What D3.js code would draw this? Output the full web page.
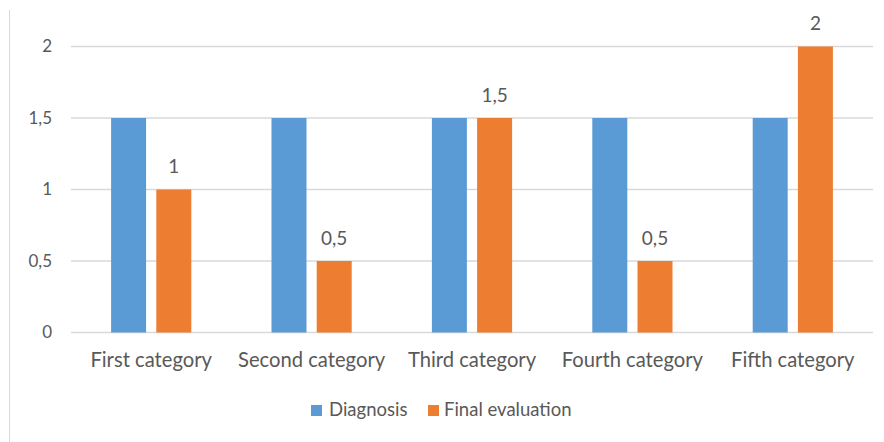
<!DOCTYPE html>
<html><head><meta charset="utf-8">
<script src="https://cdn.jsdelivr.net/npm/d3@7"></script>
<style>body{margin:0;background:#fff}svg{display:block;font-family:Lato,"Open Sans",sans-serif}</style>
</head><body>
<svg id="c" width="884" height="442"></svg>
<script>
const categories = ["First category","Second category","Third category","Fourth category","Fifth category"];
const seriesNames = ["Diagnosis","Final evaluation"];
const diagnosis = [1.5,1.5,1.5,1.5,1.5];
const finalEvaluation = [1,0.5,1.5,0.5,2];
const yTicks = [0,0.5,1,1.5,2];
const colors = ["#5B9BD5","#ED7D31"];

(function(){
const svg = d3.select("#c");
const pLeft = 71, pRight = 873, pTop = 46.5, pBottom = 332.5;
const y = d3.scaleLinear().domain([0,2]).range([pBottom, pTop]);
const x0 = d3.scaleBand().domain(categories).range([pLeft,pRight]).paddingInner(0.5).paddingOuter(0.25);
const x1 = d3.scaleBand().domain(seriesNames).range([0,x0.bandwidth()]).paddingInner(0.226).paddingOuter(0);
const fmt = v => String(v).replace(".", ",");
const textCol = "#595959";

svg.append("line").attr("x1",9.5).attr("x2",9.5).attr("y1",10).attr("y2",442).attr("stroke","#d9d9d9");

svg.append("g").selectAll("line").data(yTicks).join("line")
  .attr("x1",pLeft).attr("x2",pRight).attr("y1",d=>y(d)).attr("y2",d=>y(d))
  .attr("stroke","#d9d9d9").attr("stroke-width",1.5);

const yAxis = d3.axisLeft(y).tickValues(yTicks).tickFormat(fmt).tickSize(0).tickPadding(0);
const ya = svg.append("g").attr("transform","translate(52,0)").call(yAxis);
ya.select(".domain").remove();
ya.selectAll("text").attr("fill",textCol).style("font-size","17px").style("font-family","Lato,'Open Sans',sans-serif");

const data = categories.map((c,i)=>({c, vals:[diagnosis[i], finalEvaluation[i]]}));
const g = svg.append("g");
data.forEach(d=>{
  d.vals.forEach((v,j)=>{
    g.append("rect").attr("x",x0(d.c)+x1(seriesNames[j])).attr("width",x1.bandwidth())
      .attr("y",y(v)).attr("height",y(0)-y(v)).attr("fill",colors[j]);
  });
  const v = d.vals[1];
  g.append("text").attr("x",x0(d.c)+x1(seriesNames[1])+x1.bandwidth()/2).attr("y",y(v)-16.5)
    .attr("text-anchor","middle").attr("fill",textCol).style("font-size","19px").text(fmt(v));
});

const xa = svg.append("g").attr("transform",`translate(0,${pBottom})`).call(d3.axisBottom(x0).tickSize(0).tickPadding(0));
xa.select(".domain").remove();
xa.selectAll("text").attr("fill",textCol).attr("dy",0).attr("y",34).style("font-size","20.2px").style("font-family","Lato,'Open Sans',sans-serif");

const leg = [{name:seriesNames[0],x:311,tx:329},{name:seriesNames[1],x:428,tx:444}];
leg.forEach((l,i)=>{
  svg.append("rect").attr("x",l.x).attr("y",405).attr("width",11).attr("height",11).attr("fill",colors[i]);
  svg.append("text").attr("x",l.tx).attr("y",416).attr("fill",textCol).style("font-size","18.5px").text(l.name);
});
})();
</script>
</body></html>
